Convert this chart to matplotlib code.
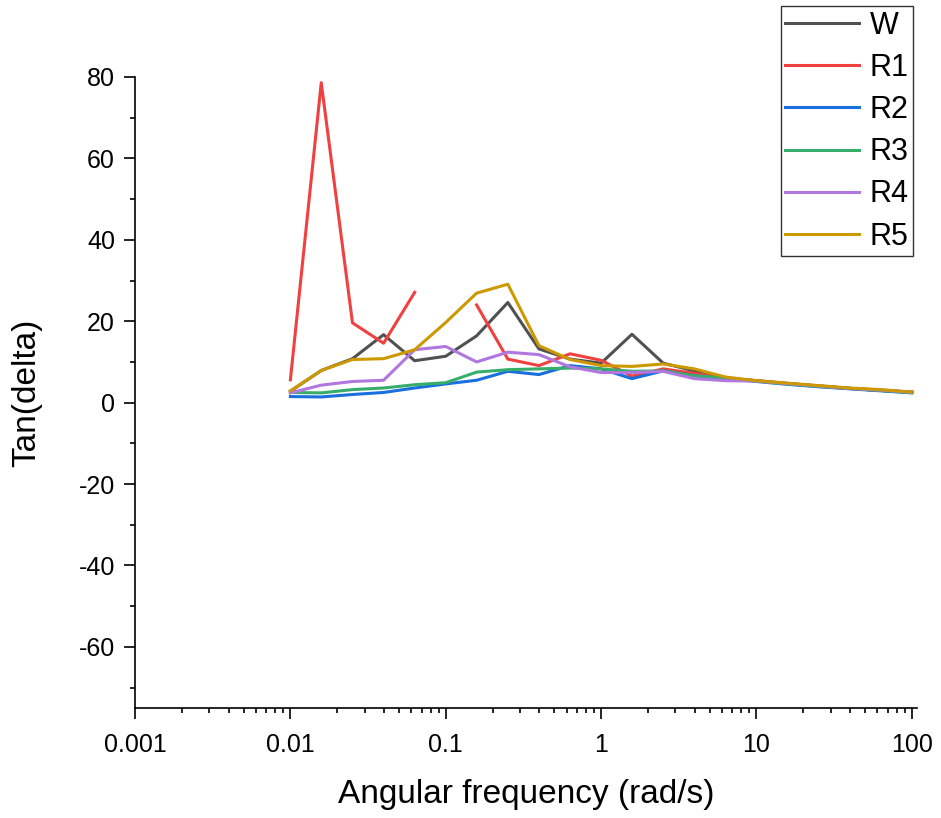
import numpy as np
import matplotlib.pyplot as plt
from matplotlib.ticker import LogLocator, MultipleLocator, FixedFormatter, FixedLocator

plt.rcParams['font.family'] = ['Liberation Sans', 'DejaVu Sans']
plt.rcParams['axes.unicode_minus'] = False

# angular frequency, 5 points per decade
freq = [0.01, 0.0158, 0.0251, 0.0398, 0.0631, 0.1, 0.158, 0.251, 0.398, 0.631,
        1, 1.58, 2.51, 3.98, 6.31, 10, 15.8, 25.1, 39.8, 63.1, 100]

W = [2.8, 7.9, 10.8, 16.7, 10.3, 11.4, 16.4, 24.6, 13.2, 10.7,
     9.7, 16.8, 9.7, 7.8, 6.0, 5.4, 4.7, 4.1, 3.5, 3.0, 2.6]
R1 = [5.6, 78.6, 19.6, 14.6, 27.1, np.nan, 24.0, 10.7, 9.1, 12.0,
      10.4, 6.5, 8.3, 7.2, 6.0, 5.4, 4.7, 4.1, 3.5, 3.0, 2.6]
R2 = [1.5, 1.4, 2.0, 2.5, 3.6, 4.6, 5.5, 7.7, 6.9, 9.1,
      8.3, 5.9, 7.8, 6.6, 5.9, 5.2, 4.5, 3.9, 3.4, 2.9, 2.4]
R3 = [2.5, 2.4, 3.2, 3.6, 4.4, 4.9, 7.5, 8.1, 8.3, 8.5,
      8.3, 7.7, 7.8, 6.6, 6.1, 5.3, 4.6, 4.0, 3.5, 3.0, 2.5]
R4 = [2.4, 4.3, 5.2, 5.5, 13.0, 13.8, 10.0, 12.4, 11.8, 8.8,
      7.4, 7.4, 7.7, 5.9, 5.4, 5.3, 4.7, 4.1, 3.5, 3.1, 2.6]
R5 = [2.9, 7.9, 10.6, 10.8, 13.0, 19.7, 26.9, 29.1, 14.0, 10.6,
      9.1, 8.9, 9.5, 8.3, 6.3, 5.4, 4.8, 4.2, 3.6, 3.2, 2.6]

series = [('W', W, '#515151'), ('R1', R1, '#F14040'), ('R2', R2, '#1A6FDF'),
          ('R3', R3, '#37AD6B'), ('R4', R4, '#B177DE'), ('R5', R5, '#CC9900')]

fig = plt.figure(figsize=(9.41, 8.18), dpi=100)
ax = fig.add_axes([0.1435, 0.1345, 0.831, 0.7714])

for name, vals, col in series:
    ax.plot(freq, vals, color=col, lw=2.2, label=name)

ax.set_xscale('log')
ax.set_xlim(0.001, 108)
ax.set_ylim(-75, 80)

ax.xaxis.set_major_locator(FixedLocator([0.001, 0.01, 0.1, 1, 10, 100]))
ax.xaxis.set_major_formatter(FixedFormatter(['0.001', '0.01', '0.1', '1', '10', '100']))
ax.xaxis.set_minor_locator(LogLocator(base=10, subs=np.arange(2, 10), numticks=20))
ax.yaxis.set_major_locator(FixedLocator([-60, -40, -20, 0, 20, 40, 60, 80]))
ax.yaxis.set_minor_locator(MultipleLocator(10))

for s in ['top', 'right']:
    ax.spines[s].set_visible(False)
for s in ['left', 'bottom']:
    ax.spines[s].set_linewidth(1.2)

ax.tick_params(which='major', direction='out', length=8, width=1.2, labelsize=18)
ax.tick_params(axis='x', which='major', pad=10)
ax.tick_params(axis='y', which='major', pad=6.5)
ax.tick_params(which='minor', direction='out', length=3.8, width=1.2)

ax.set_xlabel('Angular frequency (rad/s)', fontsize=24, labelpad=16)
ax.set_ylabel('Tan(delta)', fontsize=24, labelpad=26)

leg = fig.legend(loc='upper right', bbox_to_anchor=(913 / 941, 1 - 6 / 818),
                 borderaxespad=0, fontsize=22, frameon=True, fancybox=False,
                 handlelength=2.4, handletextpad=0.35, labelspacing=0.4,
                 borderpad=0.15)
leg.get_frame().set_edgecolor('black')
leg.get_frame().set_linewidth(1.0)

fig.savefig('out.png', dpi=100)
